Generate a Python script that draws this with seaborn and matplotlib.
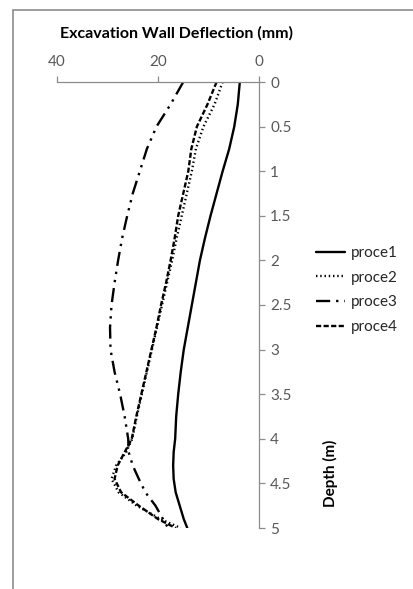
import matplotlib
matplotlib.use("Agg")
import matplotlib.pyplot as plt
import seaborn as sns
import pandas as pd
from matplotlib.patches import Rectangle

depth = [0, 0.25, 0.5, 0.75, 1.0, 1.25, 1.5, 1.75, 2.0, 2.25, 2.5, 2.75, 3.0,
         3.25, 3.5, 3.75, 4.0, 4.15, 4.3, 4.45, 4.6, 4.75, 4.9, 5.0]
proce1 = [3.8, 4.2, 4.9, 5.9, 7.2, 8.4, 9.6, 10.7, 11.7, 12.5, 13.3, 14.1, 14.9,
          15.5, 16.0, 16.4, 16.6, 16.9, 17.0, 16.9, 16.5, 15.7, 14.9, 14.2]
proce2 = [7.2, 8.8, 11.0, 12.5, 13.3, 14.3, 15.3, 16.3, 17.2, 18.2, 19.2, 20.2, 21.2,
          22.2, 23.2, 24.2, 25.1, 26.3, 28.3, 29.2, 27.8, 24.2, 19.5, 15.5]
proce3 = [15.0, 17.5, 20.3, 22.2, 23.6, 25.0, 26.1, 27.1, 27.9, 28.6, 29.2, 29.5, 29.4,
          28.6, 27.5, 26.6, 25.9, 25.8, 25.0, 23.8, 22.5, 20.5, 19.0, 18.0]
proce4 = [8.4, 10.2, 12.3, 13.4, 14.0, 15.0, 16.0, 16.7, 17.5, 18.4, 19.4, 20.3, 21.3,
          22.3, 23.3, 24.3, 25.2, 26.6, 28.0, 28.6, 27.3, 23.8, 20.0, 16.5]
series_names = ["proce1", "proce2", "proce3", "proce4"]
x_ticks = [40, 20, 0]
y_ticks = [0, 0.5, 1, 1.5, 2, 2.5, 3, 3.5, 4, 4.5, 5]
y_tick_labels = ["0", "0.5", "1", "1.5", "2", "2.5", "3", "3.5", "4", "4.5", "5"]

rows = []
for name, vals in zip(series_names, [proce1, proce2, proce3, proce4]):
    for d, v in zip(depth, vals):
        rows.append({"series": name, "depth": d, "deflection": v})
df = pd.DataFrame(rows)

sns.set_theme(style="white")
plt.rcParams["font.family"] = ["Lato", "DejaVu Sans"]

W, H = 414, 589
fig = plt.figure(figsize=(W / 100, H / 100), dpi=100)
ax = fig.add_axes([57 / W, 1 - 528 / H, (259 - 57) / W, (528 - 82) / H])

dashes = {"proce1": "", "proce2": (0.6, 1.2), "proce3": (6, 2.5, 1, 2.5, 1, 2.5),
          "proce4": (2.2, 1.0)}
sns.lineplot(data=df, x="deflection", y="depth", hue="series", style="series",
             dashes=dashes, palette=["black"] * 4, sort=False, orient="y",
             estimator=None, linewidth=1.7, ax=ax, legend=True)
for ln in ax.get_lines():
    ln.set_dash_capstyle("butt")

ax.set_xlim(40, 0)
ax.set_ylim(5, 0)
ax.set_xticks(x_ticks)
ax.set_yticks(y_ticks)
ax.set_yticklabels(y_tick_labels)
ax.xaxis.tick_top()
ax.yaxis.tick_right()
ax.set_xlabel("")
ax.set_ylabel("")
for s in ["left", "bottom"]:
    ax.spines[s].set_visible(False)
for s in ["top", "right"]:
    ax.spines[s].set_color("#8c8c8c")
    ax.spines[s].set_linewidth(0.9)
ax.tick_params(axis="both", which="major", length=4, width=0.9, color="#8c8c8c",
               labelsize=11, labelcolor="#595959", direction="out")
ax.tick_params(axis="x", top=True, bottom=False, labeltop=True, labelbottom=False, pad=5)
ax.tick_params(axis="y", right=True, left=False, labelright=True, labelleft=False, pad=4)
ax.grid(False)

handles, labels = ax.get_legend_handles_labels()
ax.get_legend().remove()
fig.legend(handles, labels, loc="upper left", bbox_to_anchor=(316 / W, 1 - 246 / H),
           frameon=False, fontsize=11, handlelength=1.9, handletextpad=0.4,
           labelspacing=0.7, borderpad=0, borderaxespad=0)

fig.text(177 / W, 1 - 33 / H, "Excavation Wall Deflection (mm)", ha="center",
         va="center", fontsize=11.5, fontweight="bold", color="black")
fig.text(330 / W, 1 - 473 / H, "Depth (m)", ha="center", va="center", rotation=90,
         fontsize=11, fontweight="bold", color="black")

fig.patches.append(Rectangle((13 / W, -0.1), 1.2, 1 - 10 / H + 0.1, transform=fig.transFigure,
                             fill=False, edgecolor="#8c8c8c", linewidth=1.2))

fig.savefig("out.png", dpi=100)
